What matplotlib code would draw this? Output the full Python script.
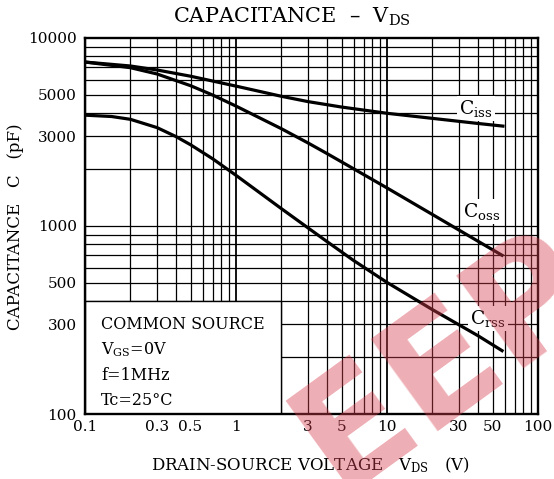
import numpy as np
import matplotlib
matplotlib.use("Agg")
import matplotlib.pyplot as plt
from matplotlib.ticker import FixedLocator, NullFormatter
from matplotlib.patches import Rectangle

plt.rcParams['font.family'] = ['DejaVu Serif']
plt.rcParams['mathtext.fontset'] = 'dejavuserif'

# ---- data ----
ciss_v = [0.1, 0.2, 0.3, 0.5, 0.7, 1, 1.5, 2, 3, 5, 7, 10, 20, 30, 40, 60]
ciss_c = [7450, 7097, 6760, 6262, 5904, 5547, 5157, 4896, 4588, 4293, 4137, 3977, 3737, 3603, 3511, 3392]

coss_v = [0.1, 0.2, 0.3, 0.5, 0.7, 1, 2, 3, 4, 6, 10, 20, 30, 48, 59]
coss_c = [7450, 6951, 6436, 5577, 4974, 4343, 3291, 2765, 2430, 2017, 1594, 1151, 951, 762, 692]

crss_v = [0.1, 0.15, 0.2, 0.3, 0.4, 0.5, 0.7, 1, 2, 3, 4, 6, 10, 20, 30, 40, 59]
crss_c = [3886, 3823, 3693, 3337, 2991, 2705, 2279, 1860, 1236, 977, 827, 656, 501, 359, 298, 261, 215]

x_ticks = [0.1, 0.3, 0.5, 1, 3, 5, 10, 30, 50, 100]
x_tick_labels = ['0.1', '0.3', '0.5', '1', '3', '5', '10', '30', '50', '100']
y_ticks = [100, 300, 500, 1000, 3000, 5000, 10000]
y_tick_labels = ['100', '300', '500', '1000', '3000', '5000', '10000']

conditions = ['COMMON SOURCE', r'V$_{\rm GS}$=0V', 'f=1MHz', 'Tc=25°C']

fig = plt.figure(figsize=(5.54, 4.79), dpi=100)
ax = fig.add_axes([85/554, 1-414/479, 453/554, 376/479])
ax.set_xscale('log')
ax.set_yscale('log')
ax.set_xlim(0.1, 100)
ax.set_ylim(100, 10000)

grid_x = [m * 10.0**e for e in (-1, 0, 1) for m in range(1, 10)]
grid_y = [m * 10.0**e for e in (2, 3) for m in range(2, 10)] + [1000]
for gx in grid_x:
    ax.axvline(gx, color='black', lw=1.3 if gx in (1, 10) else 0.9, zorder=0.5)
for gy in grid_y:
    ax.axhline(gy, color='black', lw=0.9, zorder=0.5)

ax.xaxis.set_major_locator(FixedLocator(x_ticks))
ax.xaxis.set_minor_locator(FixedLocator([]))
ax.yaxis.set_major_locator(FixedLocator(y_ticks))
ax.yaxis.set_minor_locator(FixedLocator([]))
ax.set_xticklabels(x_tick_labels)
ax.set_yticklabels(y_tick_labels)
ax.xaxis.set_minor_formatter(NullFormatter())
ax.yaxis.set_minor_formatter(NullFormatter())
ax.tick_params(axis='both', which='both', length=0, labelsize=11)
ax.tick_params(axis='x', pad=4)
ax.tick_params(axis='y', pad=6)
for s in ax.spines.values():
    s.set_linewidth(1.7)
    s.set_zorder(5)

# conditions box
ax.add_patch(Rectangle((0.1, 100), 2 - 0.1, 400 - 100, facecolor='white',
                       edgecolor='black', lw=1.0, zorder=1))

for xs, ys in ((ciss_v, ciss_c), (coss_v, coss_c), (crss_v, crss_c)):
    ax.plot(xs, ys, color='black', lw=2.3, zorder=3, solid_capstyle='butt',
            solid_joinstyle='round')

bb = dict(facecolor='white', edgecolor='none', pad=1.5)
ax.text(30.0, 3950, r'C$_{\rm iss}$', fontsize=13.5, ha='left', va='baseline', bbox=bb, zorder=2)
ax.text(31.8, 1119, r'C$_{\rm oss}$', fontsize=13.5, ha='left', va='baseline', bbox=bb, zorder=2)
ax.text(35.5, 301, r'C$_{\rm rss}$', fontsize=13.5, ha='left', va='baseline', bbox=bb, zorder=2)

for i, line in enumerate(conditions):
    ax.text(0.128, 10**(4 - (329 + 25.3*i - 38)/188), line, fontsize=11.5,
            ha='left', va='baseline', zorder=2)

fig.text(292/554, 1-17/479, r'CAPACITANCE  –  V$_{\rm DS}$', fontsize=15,
         ha='center', va='center')
fig.text(310/554, 1-465/479, r'DRAIN-SOURCE VOLTAGE   V$_{\rm DS}$   (V)', fontsize=12,
         ha='center', va='center')
fig.text(16/554, 1-227/479, 'CAPACITANCE   C   (pF)', fontsize=12, rotation=90,
         ha='center', va='center')

# watermark
fig.text(445/554, 1-362/479, 'EEP', fontsize=112, fontweight='heavy',
         family='DejaVu Sans', color=(0.84, 0.24, 0.30), alpha=0.42,
         rotation=36, ha='center', va='center', zorder=10)

fig.savefig('out.png', dpi=100)
